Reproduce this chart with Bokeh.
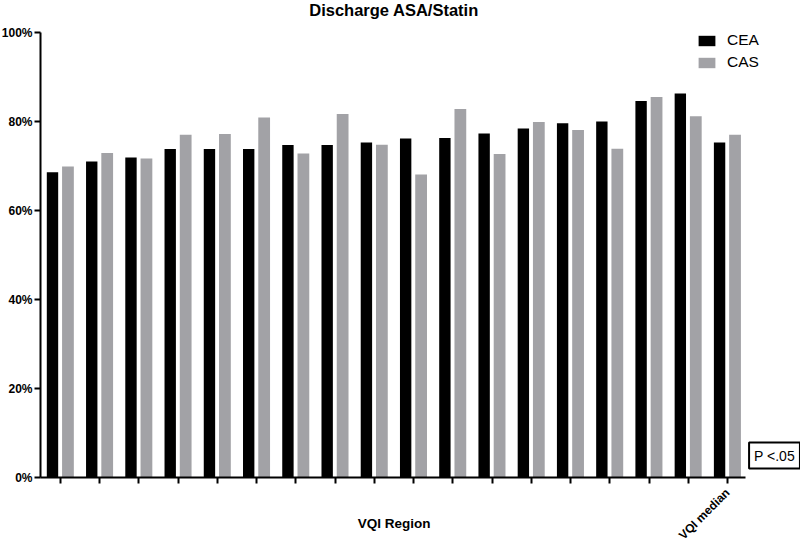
import math
from bokeh.plotting import figure
from bokeh.models import (FixedTicker, PrintfTickFormatter, Label, Range1d, ColumnDataSource)
from bokeh.transform import dodge
from bokeh.embed import file_html
from bokeh.resources import INLINE

# ---- data ----
regions = [str(i) for i in range(1, 18)] + ["VQI median"]
cea = [68.6, 71.0, 71.9, 73.8, 73.8, 73.8, 74.7, 74.7, 75.3, 76.2, 76.3, 77.3, 78.4, 79.6, 80.0, 84.6, 86.3, 75.3]
cas = [69.9, 72.9, 71.7, 77.0, 77.2, 80.9, 72.8, 81.7, 74.8, 68.1, 82.8, 72.7, 79.9, 78.1, 73.9, 85.5, 81.2, 77.0]
y_ticks = [0, 20, 40, 60, 80, 100]
series_names = ["CEA", "CAS"]
title_text = "Discharge ASA/Statin"
x_title = "VQI Region"
p_note = "P <.05"

FONT = "Liberation Sans"
BLACK = "#000000"
GRAY = "#a2a2a6"

n = len(regions)
idx = list(range(n))
src = ColumnDataSource(dict(x=idx, cea=cea, cas=cas, region=regions))

W, H = 800, 543
# layout in pixels (canvas == frame)
x0_px, px_per_x = 60.0, 39.24      # pixel of first group centre, pixels per group
y0_px, px_per_y = 477.0, 4.45      # pixel of 0 %, pixels per percent
x_start = (0 - x0_px) / px_per_x
x_end = (W - x0_px) / px_per_x
y_start = (y0_px - H) / px_per_y
y_end = y0_px / px_per_y
axis_left = (40 - x0_px) / px_per_x
axis_right = (745 - x0_px) / px_per_x

p = figure(width=W, height=H, output_backend="svg", toolbar_location=None,
           x_range=Range1d(x_start, x_end), y_range=Range1d(y_start, y_end),
           min_border_left=0, min_border_right=0, min_border_top=0, min_border_bottom=0,
           title=None)
p.outline_line_color = None
p.background_fill_color = "white"
p.border_fill_color = "white"
p.xgrid.visible = False
p.ygrid.visible = False

p.vbar(x=dodge("x", -0.204), top="cea", width=0.29, source=src,
       fill_color=BLACK, line_color=None, legend_label=series_names[0])
p.vbar(x=dodge("x", 0.19), top="cas", width=0.30, source=src,
       fill_color=GRAY, line_color=None, legend_label=series_names[1])

# axes
yax = p.yaxis[0]
yax.fixed_location = axis_left
yax.bounds = (0, 100)
yax.ticker = FixedTicker(ticks=y_ticks)
yax.formatter = PrintfTickFormatter(format="%d%%")
yax.axis_line_width = 2
yax.major_tick_line_width = 2
yax.major_tick_out = 6
yax.major_tick_in = 0
yax.minor_tick_out = 0
yax.minor_tick_in = 0
yax.major_label_standoff = 2
yax.major_label_text_font = FONT
yax.major_label_text_font_style = "bold"
yax.major_label_text_font_size = "12px"
yax.major_label_text_color = BLACK

xax = p.xaxis[0]
xax.fixed_location = 0
xax.bounds = (axis_left, axis_right)
xax.ticker = FixedTicker(ticks=idx)
xax.major_label_overrides = {i: "" for i in idx}
xax.axis_line_width = 2
xax.major_tick_line_width = 2
xax.major_tick_out = 6
xax.major_tick_in = 0
xax.minor_tick_out = 0
xax.minor_tick_in = 0

# legend
leg = p.legend[0]
leg.location = (696, 472)
leg.padding = 0
leg.margin = 0
leg.spacing = 4
leg.border_line_color = None
leg.background_fill_alpha = 0
leg.glyph_width = 21
leg.glyph_height = 13
leg.label_height = 13
leg.label_standoff = 10
leg.label_text_font = FONT
leg.label_text_font_size = "15.5px"
leg.label_text_color = BLACK

# texts
center_x = (n - 1) / 2
p.add_layout(Label(x=center_x, y=y_end, text=title_text, text_align="center", text_baseline="top",
                   text_font=FONT, text_font_style="bold", text_font_size="16.5px", text_color=BLACK))
p.add_layout(Label(x=center_x, y=-10.34, text=x_title, text_align="center", text_baseline="alphabetic",
                   text_font=FONT, text_font_style="bold", text_font_size="13.5px", text_color=BLACK))
p.add_layout(Label(x=n - 1, y=-2.95, text=regions[-1], angle=math.pi / 4, text_align="right",
                   text_baseline="middle", text_font=FONT, text_font_style="bold",
                   text_font_size="12px", text_color=BLACK))
p.add_layout(Label(x=18.196, y=4.94, text=p_note, text_align="center", text_baseline="middle",
                   text_font=FONT, text_font_size="14px", text_color=BLACK,
                   border_line_color=BLACK, border_line_width=2, background_fill_color="white",
                   padding=5))

open("out.html", "w").write(file_html(p, INLINE))
